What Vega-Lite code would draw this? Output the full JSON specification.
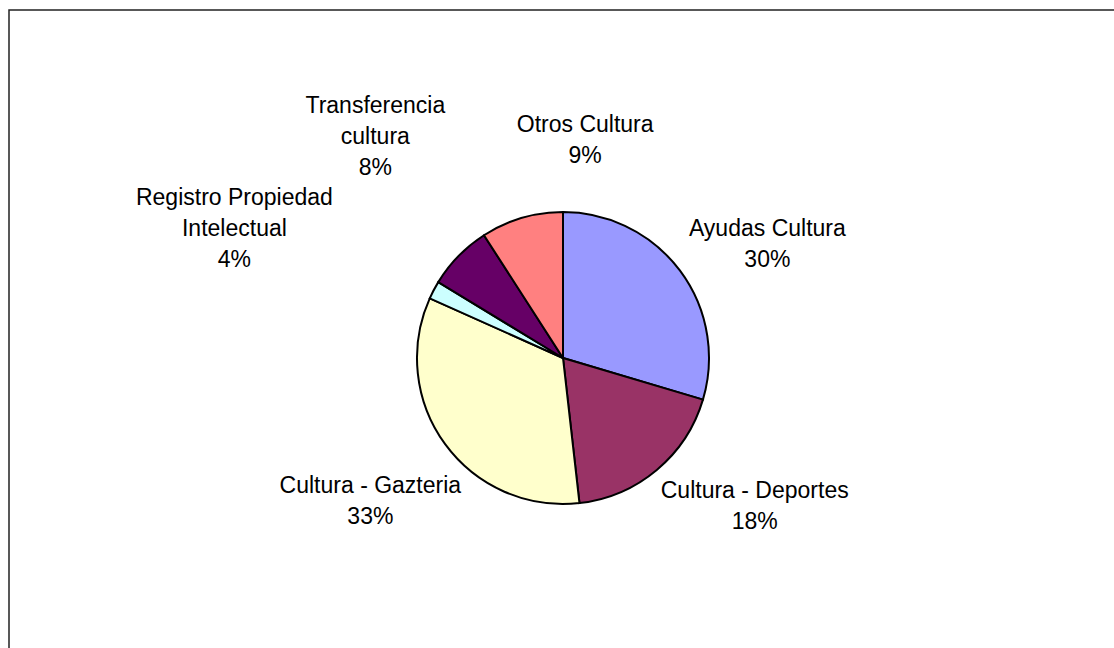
{
  "$schema": "https://vega.github.io/schema/vega-lite/v6.json",
  "width": 1108,
  "height": 696,
  "autosize": "none",
  "padding": {"left": 9, "top": 10, "right": 0, "bottom": 0},
  "background": "white",
  "view": {"stroke": "#222222", "strokeWidth": 1.5},
  "config": {"text": {"font": "Liberation Sans", "fontSize": 23, "lineHeight": 31, "color": "#000000"}},
  "data": {
    "values": [
      {"idx": 1, "name": "Ayudas Cultura", "value": 29.6, "label": "Ayudas Cultura\n30%"},
      {"idx": 2, "name": "Cultura - Deportes", "value": 18.6, "label": "Cultura - Deportes\n18%"},
      {"idx": 3, "name": "Cultura - Gazteria", "value": 33.5, "label": "Cultura - Gazteria\n33%"},
      {"idx": 4, "name": "Registro Propiedad Intelectual", "value": 2.0, "label": "Registro Propiedad\nIntelectual\n4%"},
      {"idx": 5, "name": "Transferencia cultura", "value": 7.2, "label": "Transferencia\ncultura\n8%"},
      {"idx": 6, "name": "Otros Cultura", "value": 9.1, "label": "Otros Cultura\n9%"}
    ]
  },
  "encoding": {
    "theta": {"field": "value", "type": "quantitative", "stack": true},
    "order": {"field": "idx", "type": "quantitative"}
  },
  "layer": [
    {
      "mark": {"type": "arc", "outerRadius": 146, "stroke": "#000000", "strokeWidth": 2},
      "encoding": {
        "color": {
          "field": "name",
          "type": "nominal",
          "scale": {
            "domain": ["Ayudas Cultura", "Cultura - Deportes", "Cultura - Gazteria", "Registro Propiedad Intelectual", "Transferencia cultura", "Otros Cultura"],
            "range": ["#9999FF", "#993366", "#FFFFCC", "#CCFFFF", "#660066", "#FF8080"]
          },
          "legend": null
        }
      }
    },
    {
      "mark": {"type": "text", "radius": 230, "lineBreak": "\n", "align": "center", "baseline": "middle", "dx": 20, "dy": 9},
      "encoding": {"text": {"condition": {"test": "datum.idx === 1", "field": "label"}, "value": ""}}
    },
    {
      "mark": {"type": "text", "radius": 230, "lineBreak": "\n", "align": "center", "baseline": "middle", "dx": 44, "dy": -43},
      "encoding": {"text": {"condition": {"test": "datum.idx === 2", "field": "label"}, "value": ""}}
    },
    {
      "mark": {"type": "text", "radius": 230, "lineBreak": "\n", "align": "center", "baseline": "middle", "dx": -7, "dy": -8},
      "encoding": {"text": {"condition": {"test": "datum.idx === 3", "field": "label"}, "value": ""}}
    },
    {
      "mark": {"type": "text", "radius": 230, "lineBreak": "\n", "align": "center", "baseline": "middle", "dx": -125, "dy": -53},
      "encoding": {"text": {"condition": {"test": "datum.idx === 4", "field": "label"}, "value": ""}}
    },
    {
      "mark": {"type": "text", "radius": 230, "lineBreak": "\n", "align": "center", "baseline": "middle", "dx": -23, "dy": -91},
      "encoding": {"text": {"condition": {"test": "datum.idx === 5", "field": "label"}, "value": ""}}
    },
    {
      "mark": {"type": "text", "radius": 230, "lineBreak": "\n", "align": "center", "baseline": "middle", "dx": 87, "dy": -12},
      "encoding": {"text": {"condition": {"test": "datum.idx === 6", "field": "label"}, "value": ""}}
    }
  ]
}
